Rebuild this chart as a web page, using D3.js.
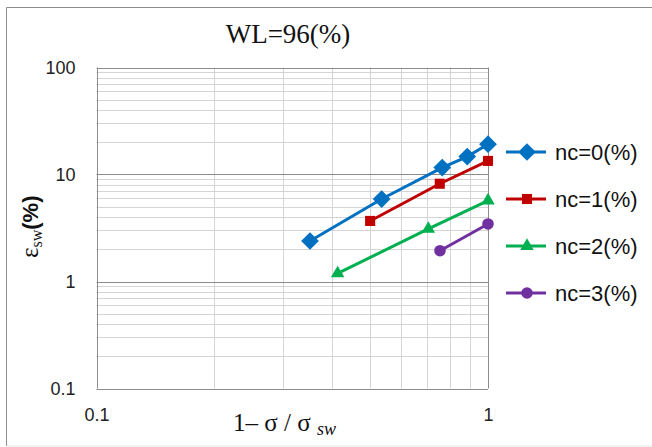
<!DOCTYPE html>
<html>
<head>
<meta charset="utf-8">
<script src="https://cdn.jsdelivr.net/npm/d3@7"></script>
<style>
  html, body { margin: 0; padding: 0; background: #fff; }
  svg { display: block; }
</style>
</head>
<body>
<div id="chart"></div>
<script>
// data
const seriesNames = ['nc=0(%)', 'nc=1(%)', 'nc=2(%)', 'nc=3(%)'];
const nc0X = [0.351, 0.535, 0.764, 0.885, 1.0];
const nc0Y = [2.39, 5.9, 11.6, 14.7, 19.2];
const nc1X = [0.50, 0.753, 1.0];
const nc1Y = [3.68, 8.2, 13.4];
const nc2X = [0.413, 0.704, 1.0];
const nc2Y = [1.19, 3.1, 5.7];
const nc3X = [0.754, 1.0];
const nc3Y = [1.94, 3.45];
const xTicks = [0.1, 1];
const yTicks = [0.1, 1, 10, 100];

const W = 652, H = 447;
const margin = {left: 96.5, top: 67.5, right: 488, bottom: 388.5};

const colors = ['#0070C0', '#C00000', '#00B050', '#7030A0'];
const symbols = [d3.symbolDiamond2, d3.symbolSquare2, d3.symbolTriangle2, d3.symbolCircle];
const symSizes = [200, 130, 130, 105];

const series = [[nc0X, nc0Y], [nc1X, nc1Y], [nc2X, nc2Y], [nc3X, nc3Y]].map(([xs, ys], i) => ({
  name: seriesNames[i],
  color: colors[i],
  points: xs.map((x, j) => ({x, y: ys[j]}))
}));

const x = d3.scaleLog().domain([0.1, 1]).range([margin.left, margin.right]);
const y = d3.scaleLog().domain([0.1, 100]).range([margin.bottom, margin.top]);

const svg = d3.select('#chart').append('svg')
  .attr('width', W).attr('height', H);

// outer frame
svg.append('line').attr('x1', 6.5).attr('x2', W).attr('y1', 7.5).attr('y2', 7.5)
  .attr('stroke', '#8c8c8c').attr('stroke-width', 1);
svg.append('line').attr('x1', 6.5).attr('x2', 6.5).attr('y1', 7.5).attr('y2', 446)
  .attr('stroke', '#8c8c8c').attr('stroke-width', 1);
svg.append('line').attr('x1', 6.5).attr('x2', W).attr('y1', 446).attr('y2', 446)
  .attr('stroke', '#e6e6e6').attr('stroke-width', 1);

// grid
const minor = (lo, hi) => {
  const out = [];
  for (let d = lo; d < hi; d *= 10) {
    for (let k = 2; k <= 9; k++) out.push(d * k);
  }
  return out;
};
const grid = svg.append('g');
grid.selectAll('.hmin').data(minor(0.1, 100)).join('line')
  .attr('x1', margin.left).attr('x2', margin.right)
  .attr('y1', d => Math.round(y(d)) + 0.5).attr('y2', d => Math.round(y(d)) + 0.5)
  .attr('stroke', '#d4d4d4');
grid.selectAll('.vmin').data(minor(0.1, 1)).join('line')
  .attr('y1', margin.top).attr('y2', margin.bottom)
  .attr('x1', d => Math.round(x(d)) + 0.5).attr('x2', d => Math.round(x(d)) + 0.5)
  .attr('stroke', '#d4d4d4');
grid.selectAll('.hmaj').data(yTicks).join('line')
  .attr('x1', margin.left).attr('x2', margin.right)
  .attr('y1', d => Math.round(y(d)) + 0.5).attr('y2', d => Math.round(y(d)) + 0.5)
  .attr('stroke', '#8c8c8c');
grid.selectAll('.vmaj').data(xTicks).join('line')
  .attr('y1', margin.top).attr('y2', margin.bottom)
  .attr('x1', d => Math.round(x(d)) + 0.5).attr('x2', d => Math.round(x(d)) + 0.5)
  .attr('stroke', '#8c8c8c');

// axes (labels only)
const yAxis = d3.axisLeft(y).tickValues(yTicks).tickFormat(d => String(d)).tickSize(0).tickPadding(21);
const xAxis = d3.axisBottom(x).tickValues(xTicks).tickFormat(d => String(d)).tickSize(0).tickPadding(20);
const gy = svg.append('g').attr('transform', `translate(${margin.left},0)`).call(yAxis);
const gx = svg.append('g').attr('transform', `translate(0,${margin.bottom})`).call(xAxis);
[gy, gx].forEach(g => {
  g.select('.domain').remove();
  g.selectAll('text').attr('font-family', 'Liberation Sans, Arial, sans-serif')
    .attr('font-size', 18).attr('fill', '#222');
});

// series
const line = d3.line().x(d => x(d.x)).y(d => y(d.y));
series.forEach((s, i) => {
  const g = svg.append('g');
  g.append('path').attr('d', line(s.points))
    .attr('fill', 'none').attr('stroke', s.color).attr('stroke-width', 3);
  g.selectAll('path.m').data(s.points).join('path').attr('class', 'm')
    .attr('d', d3.symbol().type(symbols[i]).size(symSizes[i]))
    .attr('transform', d => `translate(${x(d.x)},${y(d.y)})`)
    .attr('fill', s.color);
});

// legend
const leg = svg.append('g');
const legY = [152, 199, 246, 293];
series.forEach((s, i) => {
  const g = leg.append('g').attr('transform', `translate(0,${legY[i]})`);
  g.append('line').attr('x1', 506).attr('x2', 546).attr('stroke', s.color).attr('stroke-width', 3);
  g.append('path').attr('d', d3.symbol().type(symbols[i]).size(symSizes[i]))
    .attr('transform', 'translate(527,0)').attr('fill', s.color);
  g.append('text').attr('x', 555).attr('y', 8)
    .attr('font-family', 'Liberation Sans, Arial, sans-serif').attr('font-size', 22)
    .attr('fill', '#111').text(s.name);
});

// title
svg.append('text').attr('x', 288).attr('y', 43).attr('text-anchor', 'middle')
  .attr('font-family', 'Liberation Serif, serif').attr('font-size', 27).attr('fill', '#111')
  .text('WL=96(%)');

// y label
const yl = svg.append('text').attr('transform', 'translate(38,258) rotate(-90)')
  .attr('fill', '#111');
yl.append('tspan').attr('font-family', 'Liberation Serif, serif').attr('font-size', 25).text('ε');
yl.append('tspan').attr('font-family', 'Liberation Serif, serif').attr('font-size', 16).attr('dy', 4).text('sw');
yl.append('tspan').attr('font-family', 'Liberation Sans, Arial, sans-serif').attr('font-weight', 'bold')
  .attr('font-size', 22).attr('dy', -4).text('(%)');

// x label
const xl = svg.append('text').attr('x', 233).attr('y', 431)
  .attr('font-family', 'Liberation Serif, serif').attr('font-size', 25).attr('fill', '#111');
xl.append('tspan').text('1– σ / σ ');
xl.append('tspan').attr('font-style', 'italic').attr('font-size', 18).attr('dy', 4).text('sw');
</script>
</body>
</html>
